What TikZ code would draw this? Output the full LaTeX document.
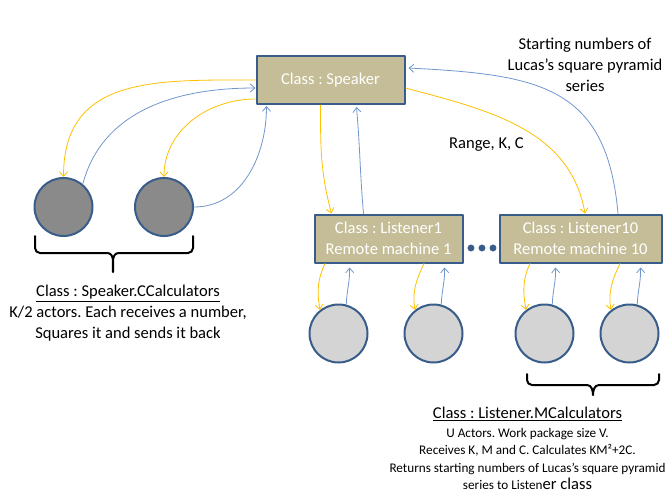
\documentclass[tikz,border=0pt]{standalone}
\usepackage{fontspec}
\setmainfont{Carlito}
\frenchspacing
\usetikzlibrary{arrows.meta,calc}
\definecolor{boxfill}{HTML}{C4BD97}
\definecolor{boxline}{HTML}{385D8A}
\definecolor{callcol}{HTML}{FFC000}
\definecolor{replycol}{HTML}{7096CC}
\definecolor{darkactor}{HTML}{8A8A8A}
\definecolor{lightactor}{HTML}{D4D4D4}
\begin{document}
\begin{tikzpicture}[x=0.75pt,y=0.75pt,>={Straight Barb[length=3.5pt,width=6pt]},
    font=\fontsize{12.4}{15.75}\selectfont, line join=round, line cap=round,
    box/.style={draw=boxline, line width=1.5pt, fill=boxfill, text=white, align=center,
        minimum width=111pt, minimum height=36pt, inner sep=0pt},
    actor/.style={circle, draw=boxline, line width=1.5pt, minimum size=43.5pt, inner sep=0pt},
    call/.style={->, callcol, line width=0.6pt},
    reply/.style={->, replycol, line width=0.6pt},
    bracket/.style={line width=1.5pt}]
\useasboundingbox (0,0) rectangle (672,-504);
% actors
\node[box] (spk) at (330.5,-80) {Class : Speaker};
\node[box] (l1) at (388.5,-238.5) {Class : Listener1\\Remote machine 1};
\node[box, minimum width=121.5pt] (l10) at (580.5,-238.5) {Class : Listener10\\Remote machine 10};
\node[actor, fill=darkactor] (s1) at (63.5,-207) {};
\node[actor, fill=darkactor] (s2) at (164,-207) {};
\foreach \n/\x in {1/338.5, 2/433.5, 3/544.5, 4/629.5}
    \node[actor, fill=lightactor] (m\n) at (\x,-333.5) {};
\foreach \x in {471,482,493} \fill[boxline] (\x,-248) circle (2.6pt);
% messages
\draw[call] (spk.west) to[out=180,in=90,looseness=1.2] (s1.north);
\draw[reply] (s1.50) to[out=75,in=180] ($(spk.west)+(0,-8)$);
\draw[call] ($(spk.west)+(0,-19)$) to[out=180,in=90] (s2.north);
\draw[reply] (s2.east) to[out=0,in=-90] ($(spk.south west)+(11,-1)$);
\draw[call] ($(spk.south)+(-10,0)$) to[out=-90,in=105] ($(l1.north west)+(18,0)$);
\draw[reply] ($(l1.north)+(-25,0)$) to[out=95,in=-85] ($(spk.south)+(26,-2)$);
\draw[call] ($(spk.east)+(0,-8)$) to[out=-15,in=100] ($(l10.north)+(4.5,0)$);
\draw[reply] ($(l10.north)+(37.5,0)$) to[out=95,in=-3,looseness=1.3] ($(spk.east)+(3,12)$);
\foreach \n/\p/\dx in {1/l1/-13.5, 2/l1/-9.5, 3/l10/-14.5, 4/l10/-9.5} {
    \draw[call] ($(\p.south -| m\n.north)+(\dx,0)$) to[out=-115,in=100] (m\n.128);
    \draw[reply] (m\n.75) to[out=88,in=-88] ($(\p.south -| m\n.north)+(11,-4)$);
}
% brackets
\draw[bracket] (35,-236) -- (35,-248) to[out=-90,in=180] (40,-253) -- (107,-253)
    to[out=0,in=90] (113,-272) to[out=90,in=180] (119,-253) -- (188,-253)
    to[out=0,in=-90] (193,-248) -- (193,-236);
\draw[bracket] (527,-374) -- (527,-380) to[out=-90,in=180] (532,-385) -- (587,-385)
    to[out=0,in=90] (593,-395) to[out=90,in=180] (599,-385) -- (654,-385)
    to[out=0,in=-90] (659,-380) -- (659,-374);
% labels
\node[align=center] (ctxt) at (128,-313) {\underline{Class : Speaker.CCalculators}\\K/2 actors. Each receives a number,\\Squares it and sends it back};
\node[align=center] (lucas) at (585,-65) {Starting numbers of\\Lucas’s square pyramid\\series};
\node (rng) at (486.5,-145) {Range, K, C};
\node (mhead) at (527.5,-414) {\underline{Class : Listener.MCalculators}};
\node[align=center, font=\fontsize{9.9}{13}\selectfont] (mtxt) at (527.5,-459) {U Actors. Work package size V.\\Receives K, M and C. Calculates KM²+2C.\\Returns starting numbers of Lucas’s square pyramid\\series to Listen{\fontsize{12.4}{13}\selectfont er class}};
\end{tikzpicture}
\end{document}
